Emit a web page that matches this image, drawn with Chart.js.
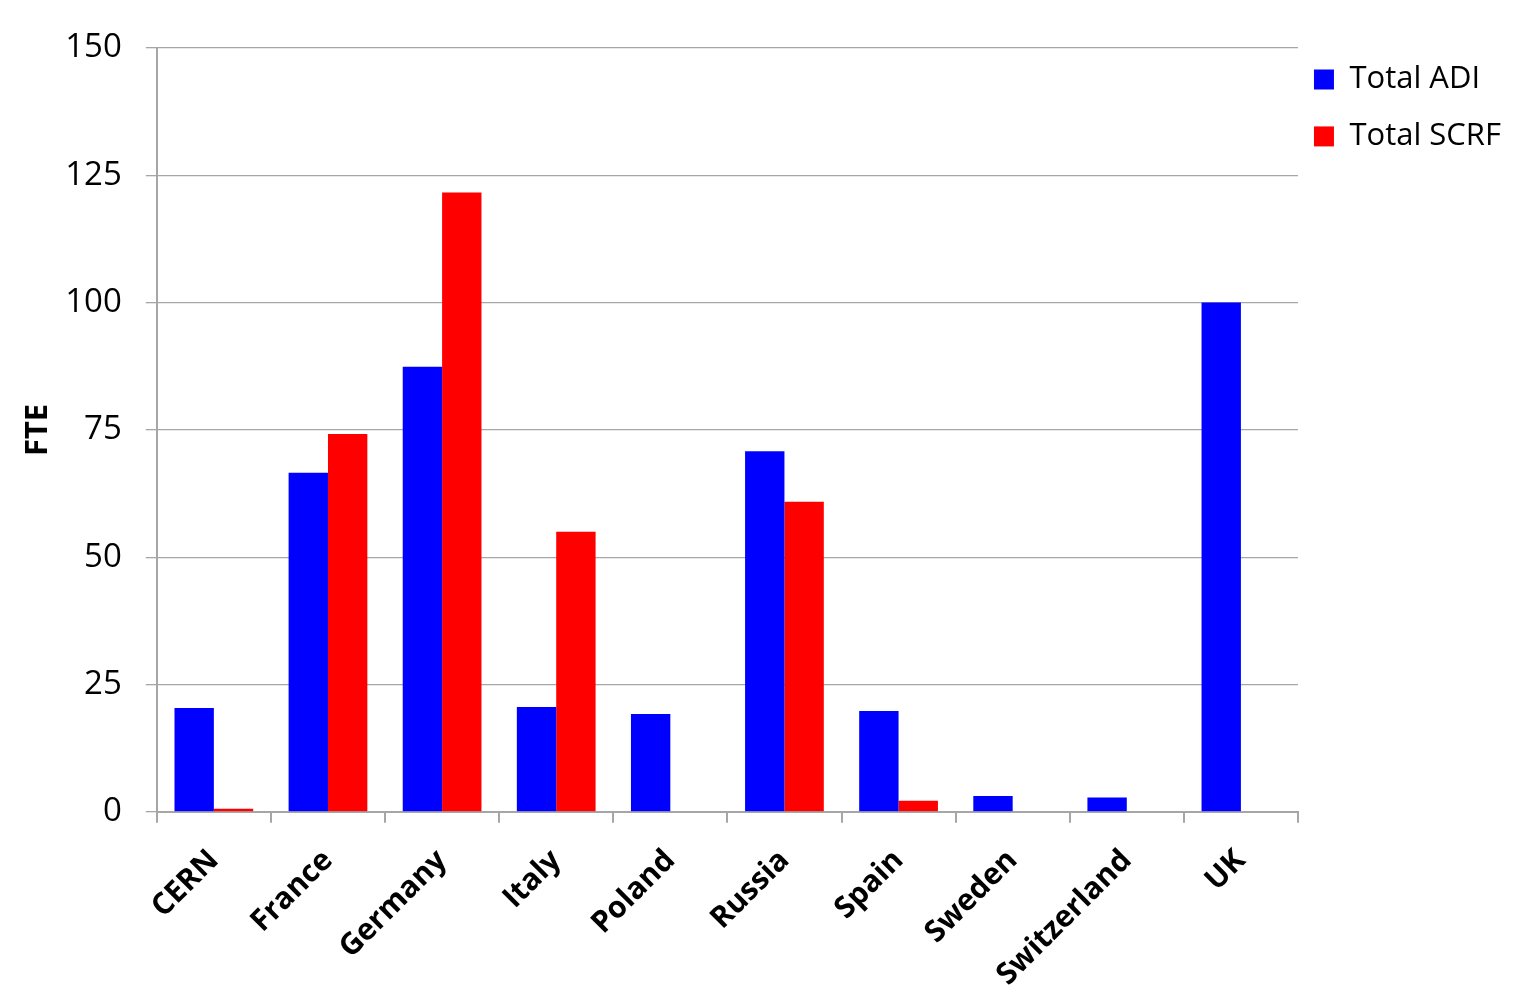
<!DOCTYPE html>
<html>
<head>
<meta charset="utf-8">
<script src="https://cdn.jsdelivr.net/npm/chart.js@4/dist/chart.umd.min.js"></script>
<style>
  html, body { margin: 0; padding: 0; background: #fff; }
  #fte-chart { display: block; }
</style>
</head>
<body>
<canvas id="fte-chart" width="1525" height="998"></canvas>
<script>
const countries = ['CERN', 'France', 'Germany', 'Italy', 'Poland', 'Russia', 'Spain', 'Sweden', 'Switzerland', 'UK']
const totalADI = [20.4, 66.6, 87.4, 20.6, 19.2, 70.8, 19.8, 3.1, 2.8, 100]
const totalSCRF = [0.6, 74.2, 121.6, 55.0, 0, 60.9, 2.2, 0, 0, 0]
const yTicks = [0, 25, 50, 75, 100, 125, 150]

const axisGray = '#a6a6a6'
const font = '"Open Sans", "Noto Sans", sans-serif'

// legend text as one-line arrays so the font lineHeight sets the row spacing
function legendLabels(chart) {
  const items = Chart.defaults.plugins.legend.labels.generateLabels(chart)
  return items.map(it => ({ ...it, text: [it.text] }))
}

const config = {
  type: 'bar',
  data: {
    labels: countries,
    datasets: [
      { label: 'Total ADI', data: totalADI, backgroundColor: '#0000ff' },
      { label: 'Total SCRF', data: totalSCRF, backgroundColor: '#ff0000' },
    ],
  },
  options: {
    responsive: false,
    animation: false,
    datasets: {
      bar: { categoryPercentage: 0.69, barPercentage: 1.0 },
    },
    layout: { padding: { left: 4, top: 48, right: 14, bottom: -15 } },
    plugins: {
      tooltip: { enabled: false },
      legend: {
        position: 'right',
        align: 'start',
        labels: {
          color: '#000',
          font: { family: font, size: 31, lineHeight: 1.32 },
          boxWidth: 20,
          boxHeight: 20,
          padding: 16,
          generateLabels: legendLabels,
        },
      },
    },
    scales: {
      x: {
        grid: {
          offset: true,
          drawOnChartArea: false,
          drawTicks: true,
          tickLength: 11,
          color: axisGray,
          lineWidth: 2,
        },
        border: { color: axisGray, width: 2 },
        ticks: {
          color: '#000',
          font: { family: font, size: 30, weight: 'bold' },
          maxRotation: 45,
          minRotation: 45,
          padding: 20,
        },
      },
      y: {
        min: 0,
        max: 150,
        afterBuildTicks: (axis) => { axis.ticks = yTicks.map(v => ({ value: v })) },
        grid: {
          color: axisGray,
          lineWidth: 1.3,
          tickLength: 11,
        },
        border: { color: axisGray, width: 2 },
        ticks: {
          color: '#000',
          font: { family: font, size: 33 },
          padding: 24,
        },
        title: {
          display: true,
          text: 'FTE',
          color: '#000',
          font: { family: font, size: 31, weight: 'bold' },
          padding: { top: 16, bottom: -16 },
        },
      },
    },
  },
}

const ctx = document.getElementById('fte-chart')
window.fteChart = new Chart(ctx, config)
</script>
</body>
</html>
